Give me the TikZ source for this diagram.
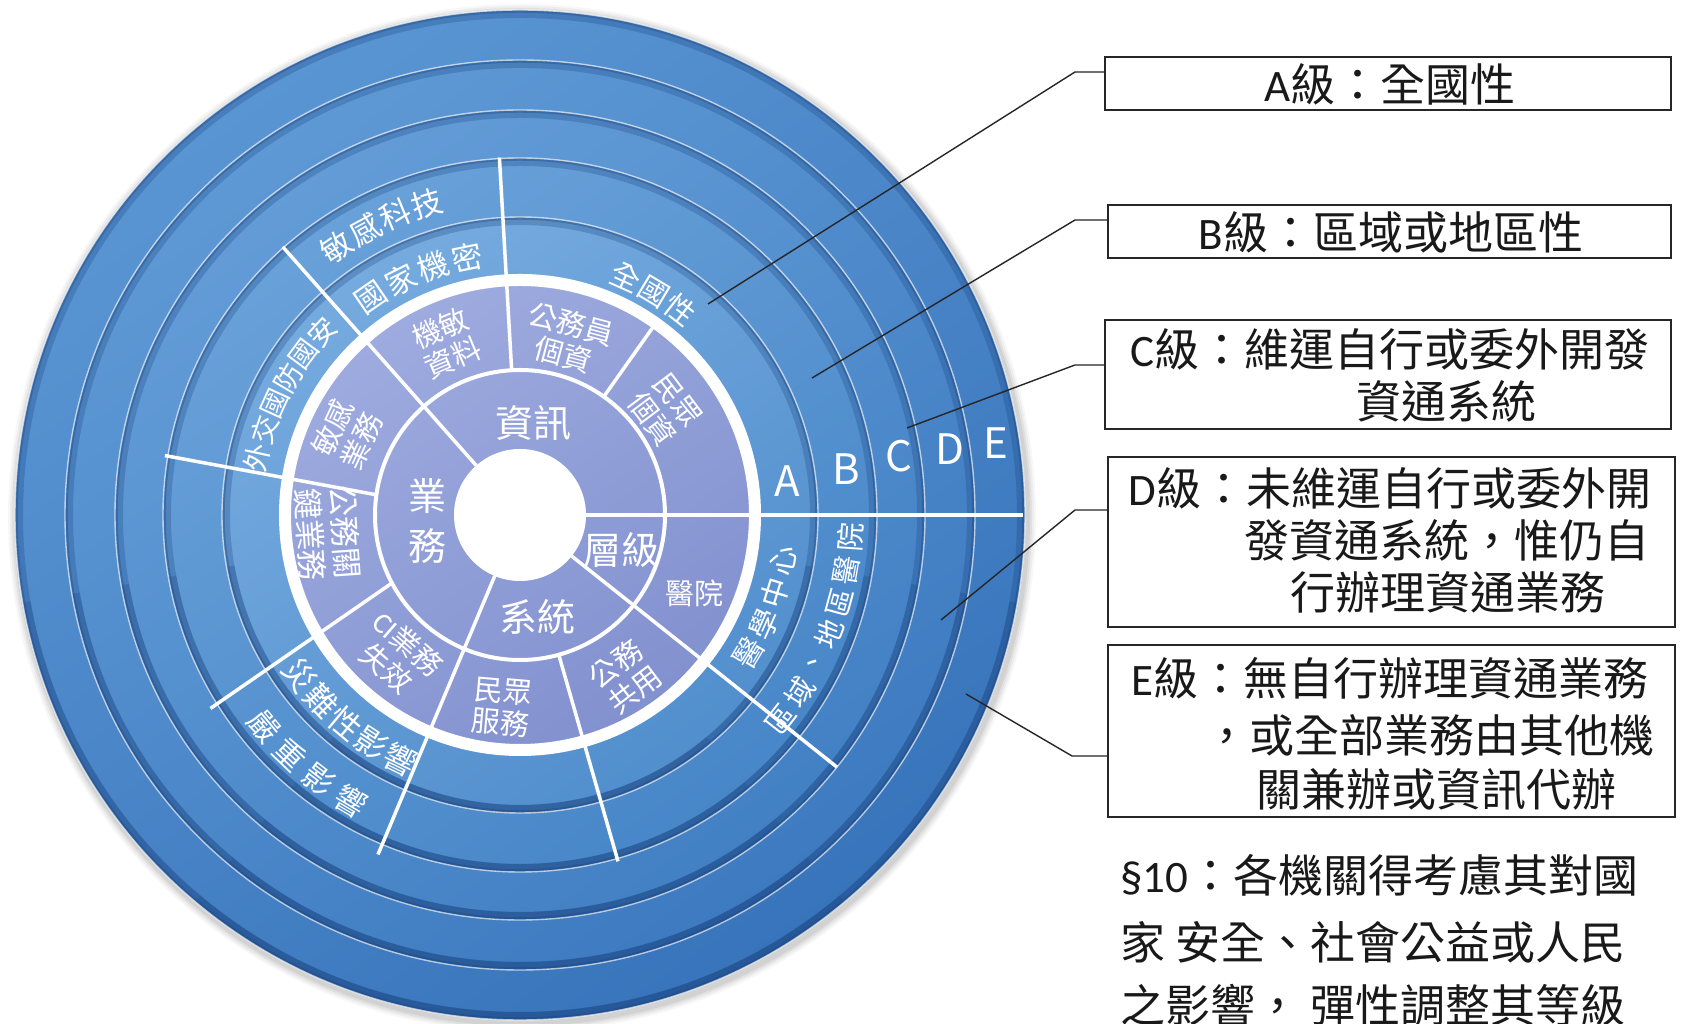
\documentclass[tikz,border=0pt]{standalone}
\usepackage{fontspec}
\setmainfont{Noto Sans CJK TC}
\newfontfamily\lat{Carlito}
\usetikzlibrary{calc}
\definecolor{rimc}{HTML}{1A4480}
\definecolor{Elt}{HTML}{5A95D3}\definecolor{Edk}{HTML}{3874BB}
\definecolor{Dlt}{HTML}{5E99D5}\definecolor{Ddk}{HTML}{3D7AC0}
\definecolor{Clt}{HTML}{639CD7}\definecolor{Cdk}{HTML}{4280C4}
\definecolor{Blt}{HTML}{69A1D9}\definecolor{Bdk}{HTML}{4786C8}
\definecolor{Alt}{HTML}{76ABDF}\definecolor{Adk}{HTML}{518ECD}
\definecolor{Plt}{HTML}{9EABDF}\definecolor{Pdk}{HTML}{8291CF}

\newcommand\ringdisc[3]{%
  \shade[top color=#2, bottom color=#3, shading angle=35] (0,0) circle[radius=#1pt];
  \pgfmathsetmacro\rimr{#1-4}%
  \pgfmathsetmacro\rimq{#1-1.5}%
  \draw[rimc, opacity=0.28, line width=8pt] (0,0) circle[radius=\rimr pt];
  \draw[rimc, opacity=0.25, line width=8pt] (190:\rimr pt) arc[start angle=190, end angle=350, radius=\rimr pt];
  \draw[rimc, opacity=0.2, line width=8pt] (230:\rimr pt) arc[start angle=230, end angle=310, radius=\rimr pt];
  \draw[rimc, opacity=0.35, line width=2.5pt] (0,0) circle[radius=\rimq pt];
  \draw[white, opacity=0.65, line width=1.4pt] (0,0) circle[radius=#1pt];
}
% tops outward, reading clockwise
\newcommand\ringout[7]{%
  \foreach \ch [count=\i] in {#7}{%
    \pgfmathsetmacro\ang{#3+((#5+1)/2-\i)*#4}%
    \node[ringch, font=\fontsize{#6}{#6}\selectfont, rotate=\ang-90] (#1\i) at (\ang:#2pt) {\ch};
  }%
}
% tops inward, reading counter-clockwise
\newcommand\ringin[7]{%
  \foreach \ch [count=\i] in {#7}{%
    \pgfmathsetmacro\ang{#3-((#5+1)/2-\i)*#4}%
    \node[ringch, font=\fontsize{#6}{#6}\selectfont, rotate=\ang+90] (#1\i) at (\ang:#2pt) {\ch};
  }%
}

\begin{document}
\begin{tikzpicture}[x=1pt,y=1pt,
  radial/.style={white, line width=3.5pt},
  ringch/.style={text=white, inner sep=0pt},
  lbl/.style={text=white, inner sep=0pt, align=center},
  inlbl/.style={lbl, font=\fontsize{38}{50}\selectfont},
  seglbl/.style={lbl, font=\fontsize{29}{32}\selectfont},
  letter/.style={text=white, inner sep=0pt, font=\fontsize{42}{42}\selectfont},
  box/.style={draw=black!85, line width=1.8pt, fill=white, inner sep=0pt},
  boxtxt/.style={text=black!90, inner sep=0pt, font=\fontsize{45}{50}\selectfont},
  callout/.style={draw=black!85, line width=1.4pt}
]
\useasboundingbox (0,0) rectangle (1683,1024);
\fill[white] (0,0) rectangle (1683,1024);

\coordinate (O) at (520,509);
\begin{scope}[shift={(O)}]
  % soft outer shadow
  \foreach \k/\op in {9/0.03,7/0.04,5/0.05,3/0.06}{%
    \pgfmathsetmacro\rr{505+\k}%
    \fill[black, opacity=\op] (2,-3) circle[radius=\rr pt];
  }
  \ringdisc{505}{Elt}{Edk}
  \ringdisc{455}{Dlt}{Ddk}
  \ringdisc{405}{Clt}{Cdk}
  \ringdisc{357}{Blt}{Bdk}
  \ringdisc{298}{Alt}{Adk}
  % purple core
  \shade[top color=Plt, bottom color=Pdk, shading angle=35] (0,0) circle[radius=230pt];
  % radial dividers
  \draw[radial, line width=4.5pt] (0:66pt) -- (0:503pt);
  \draw[radial] (131.5:66pt) -- (131.5:358pt);
  \draw[radial] (93.3:145pt) -- (93.3:358pt);
  \draw[radial] (54.7:145pt) -- (54.7:230pt);
  \draw[radial] (172:145pt) -- (170.5:360pt);
  \draw[radial] (208:145pt) -- (212:365pt);
  \draw[radial] (247.5:66pt) -- (247.3:368pt);
  \draw[radial] (285.5:145pt) -- (285.8:360pt);
  \draw[radial] (321.5:66pt) -- (321.5:405pt);
  % white bands
  \draw[white, line width=12pt] (0,0) circle[radius=235pt];
  \draw[white, line width=4pt] (0,0) circle[radius=145pt];
  \fill[white] (0,0) circle[radius=66pt];

  % inner ring labels
  \node[inlbl] (zixun) at (13,92) {資訊};
  \node[inlbl] (yewu) at (-93,-6) {業\\務};
  \node[inlbl] (xitong) at (17,-102) {系統};
  \node[inlbl] (cengji) at (101,-35) {層級};

  % outer purple ring labels
  \node[seglbl, rotate=23] (jmzl) at (113:187pt) {機敏\\資料};
  \node[seglbl, rotate=-15] (gwygz) at (75:182pt) {公務員\\個資};
  \node[seglbl, rotate=-53] (mzgz) at (36:179pt) {民眾\\個資};
  \node[seglbl, rotate=65] (mgyw) at (155:191pt) {敏感\\業務};
  \node[seglbl, rotate=-86, font=\fontsize{31}{35}\selectfont] (gwgj) at (185.5:193pt) {公務關\\鍵業務};
  \node[seglbl, rotate=-41] (ciyw) at (229:187pt) {{\lat CI}業務\\失效};
  \node[seglbl, rotate=-5] (mzfw) at (264.6:193pt) {民眾\\服務};
  \node[seglbl, rotate=37] (gwgy) at (303:193pt) {公務\\共用};
  \node[seglbl] (yiyuan) at (174,-78) {醫院};

  % ring labels along arcs
  \ringout{gjjm}{263}{113}{7.6}{4}{31}{國,家,機,密}
  \ringout{mgkj}{325}{115.5}{5.9}{4}{31}{敏,感,科,技}
  \ringout{qgx}{260}{59}{7.0}{3}{30}{全,國,性}
  \ringout{wjgf}{269}{152.5}{6.1}{6}{28}{外,交,國,防,國,安}
  \ringin{znxy}{272}{230}{7.0}{5}{32}{災,難,性,影,響}
  \ringin{yzyx}{332}{229.5}{6.6}{4}{31}{嚴,重,影,響}
  \ringin{yxzx}{267}{-20.5}{7.1}{4}{30}{醫,學,中,心}
  \ringin{qydq}{331}{-21}{5.7}{7}{29}{區,域,、,地,區,醫,院}

  % level letters
  \node[letter] (lA) at (267,34) {A};
  \node[letter] (lB) at (326,46) {B};
  \node[letter] (lC) at (379,59) {C};
  \node[letter] (lD) at (430,66) {D};
  \node[letter] (lE) at (476,72) {E};
\end{scope}

% boxes
\node[box, minimum width=566pt, minimum height=53pt] (boxA) at (1388,940.5) {};
\node[box, minimum width=563pt, minimum height=53pt] (boxB) at (1389.5,792.5) {};
\node[box, minimum width=566pt, minimum height=109pt] (boxC) at (1388,649.5) {};
\node[box, minimum width=567pt, minimum height=170pt] (boxD) at (1391.5,482) {};
\node[box, minimum width=567pt, minimum height=172pt] (boxE) at (1391.5,293) {};

\node[boxtxt] (tA) at (1390,940) {{\lat A}級：全國性};
\node[boxtxt] (tB) at (1391,792) {{\lat B}級：區域或地區性};
\node[boxtxt] (tC1) at (1390,675) {{\lat C}級：維運自行或委外開發};
\node[boxtxt] (tC2) at (1446,623) {資通系統};
\node[boxtxt] (tD1) at (1390,536) {{\lat D}級：未維運自行或委外開};
\node[boxtxt] (tD2) at (1447,484) {發資通系統，惟仍自};
\node[boxtxt] (tD3) at (1448,432) {行辦理資通業務};
\node[boxtxt] (tE1) at (1390,346) {{\lat E}級：無自行辦理資通業務};
\node[boxtxt] (tE2) at (1429,289) {，或全部業務由其他機};
\node[boxtxt] (tE3) at (1436,235) {關兼辦或資訊代辦};

\node[boxtxt, anchor=west] (s1) at (1120,149) {{\lat §10}：各機關得考慮其對國};
\node[boxtxt, anchor=west] (s2) at (1120,82) {家 安全、社會公益或人民};
\node[boxtxt, anchor=west] (s3) at (1120,19) {之影響， 彈性調整其等級};

% callouts
\coordinate (pA) at (708,720);  \coordinate (kA) at (1075,952);
\coordinate (pB) at (812,646);  \coordinate (kB) at (1075,804);
\coordinate (pC) at (907,596);  \coordinate (kC) at (1075,659);
\coordinate (pD) at (941,404);  \coordinate (kD) at (1075,514);
\coordinate (pE) at (966,330);  \coordinate (kE) at (1072,268);
\draw[callout] (pA) -- (kA) -- (kA -| boxA.west);
\draw[callout] (pB) -- (kB) -- (kB -| boxB.west);
\draw[callout] (pC) -- (kC) -- (kC -| boxC.west);
\draw[callout] (pD) -- (kD) -- (kD -| boxD.west);
\draw[callout] (pE) -- (kE) -- (kE -| boxE.west);
\end{tikzpicture}
\end{document}
